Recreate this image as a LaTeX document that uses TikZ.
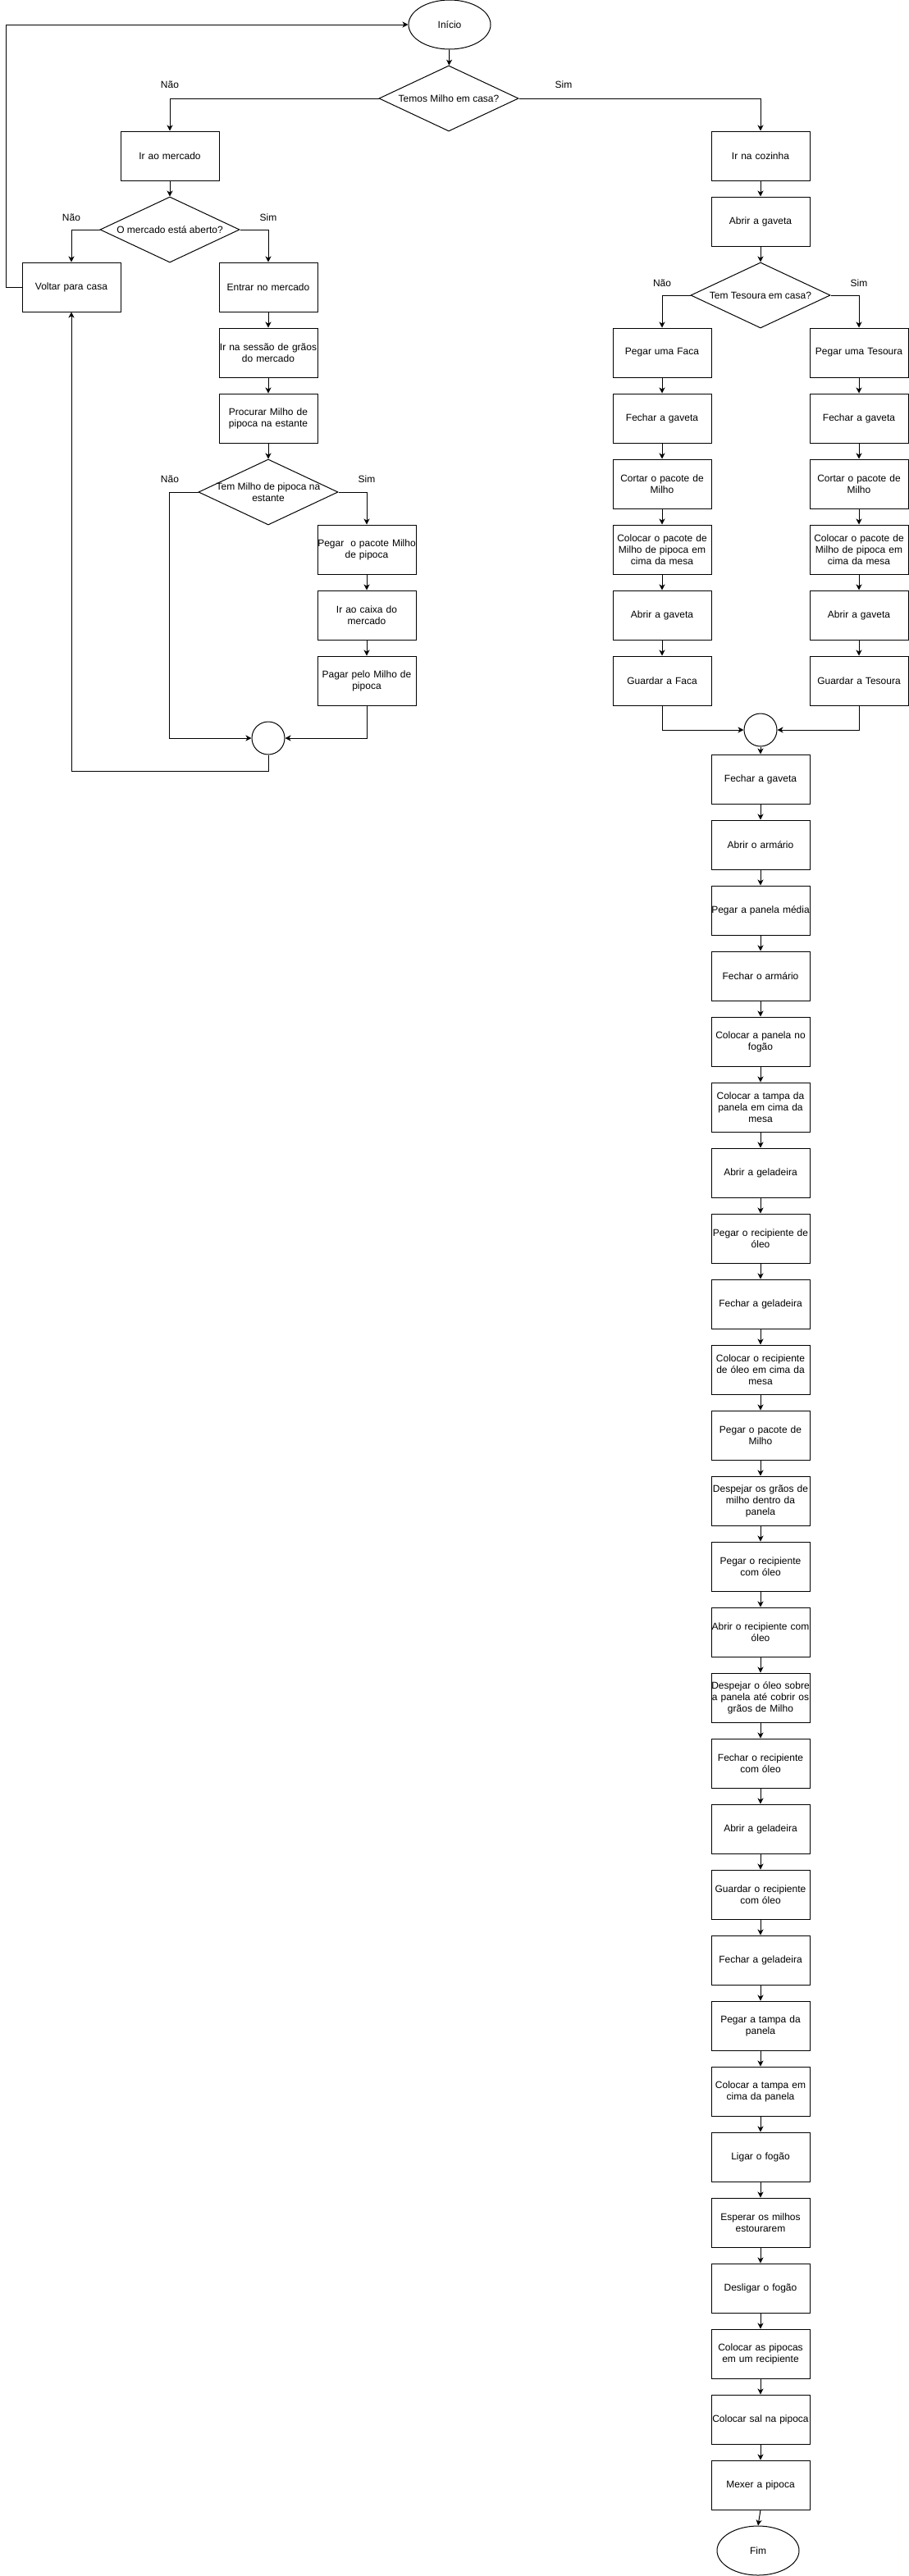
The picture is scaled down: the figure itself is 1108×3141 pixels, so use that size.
\documentclass[tikz,border=0pt]{standalone}
\usepackage{fontspec}
\setmainfont{Liberation Sans}
\usepackage{tikz}
\usetikzlibrary{shapes.geometric, arrows.meta}

\begin{document}
\begin{tikzpicture}[x=1pt, y=-1pt, line width=1pt,
        >={Stealth[length=7pt, width=7pt, inset=2pt]},
        every node/.style={font=\fontsize{12}{14}\selectfont},
        box/.style={draw, rectangle, minimum width=120pt, minimum height=60pt, text width=120pt, inner sep=0pt, align=center},
        decision/.style={draw, diamond, minimum width=170pt, minimum height=80pt, inner sep=0pt},
        terminal/.style={draw, ellipse, minimum width=100pt, minimum height=60pt, inner sep=0pt},
        joint/.style={draw, circle, minimum size=40pt, inner sep=0pt}]
        \useasboundingbox (0,0) rectangle (1108,3141);

        % Start and first question
        \node[terminal] (inicio) at (548,30) {Início};
        \node[decision, label={center:Temos Milho em casa?}] (temos) at (547,120) {};
        \draw[->] (inicio) -- (temos);
        \node (naoTemos) at (207,103) {Não};
        \node (simTemos) at (687,103) {Sim};

        % Market branch (left)
        \node[box] (mercado) at (207,190) {Ir ao mercado};
        \node[decision, label={center:O mercado está aberto?}] (aberto) at (207,280) {};
        \node (naoAberto) at (87,265) {Não};
        \node (simAberto) at (327,265) {Sim};
        \node[box] (voltar) at (87,350) {Voltar para casa};
        \node[box] (entrar) at (327,350) {Entrar no mercado};
        \node[box] (secao) at (327,430) {Ir na sessão de grãos\\do mercado};
        \node[box] (procurar) at (327,510) {Procurar Milho de\\pipoca na estante};
        \node[decision, label={[align=center]center:{Tem Milho de pipoca na\\estante}}] (temMilho) at (327,600) {};
        \node (naoMilho) at (207,584) {Não};
        \node (simMilho) at (447,584) {Sim};
        \node[box] (pegarPacote) at (447,670) {Pegar\ \ o pacote Milho\\de pipoca};
        \node[box] (caixa) at (447,750) {Ir ao caixa do\\mercado};
        \node[box] (pagar) at (447,830) {Pagar pelo Milho de\\pipoca};
        \node[joint] (juntaA) at (327,900) {};

        \draw[->] (temos.west) -| (mercado.north);
        \draw[->] (mercado) -- (aberto);
        \draw[->] (aberto.west) -| (voltar.north);
        \draw[->] (aberto.east) -| (entrar.north);
        \draw[->] (entrar) -- (secao);
        \draw[->] (secao) -- (procurar);
        \draw[->] (procurar) -- (temMilho);
        \draw[->] (temMilho.west) -- ++(-35,0) |- (juntaA.west);
        \draw[->] (temMilho.east) -| (pegarPacote.north);
        \draw[->] (pegarPacote) -- (caixa);
        \draw[->] (caixa) -- (pagar);
        \draw[->] (pagar.south) |- (juntaA.east);
        \draw[->] (juntaA.south) -- ++(0,20) -| (voltar.south);
        \draw[->] (voltar.west) -- ++(-19,0) |- (inicio.west);

        % Kitchen branch (right)
        \node[box] (cozinha) at (927,190) {Ir na cozinha};
        \node[box] (abrirGaveta) at (927,270) {Abrir a gaveta};
        \node[decision, label={center:Tem Tesoura em casa?}] (temTesoura) at (927,360) {};
        \node (naoTesoura) at (807,345) {Não};
        \node (simTesoura) at (1047,345) {Sim};
        \draw[->] (temos.east) -| (cozinha.north);
        \draw[->] (cozinha) -- (abrirGaveta);
        \draw[->] (abrirGaveta) -- (temTesoura);

        % Knife column
        \node[box] (facaA) at (807,430) {Pegar uma Faca};
        \node[box] (facaB) at (807,510) {Fechar a gaveta};
        \node[box] (facaC) at (807,590) {Cortar o pacote de\\Milho};
        \node[box] (facaD) at (807,670) {Colocar o pacote de\\Milho de pipoca em\\cima da mesa};
        \node[box] (facaE) at (807,750) {Abrir a gaveta};
        \node[box] (facaF) at (807,830) {Guardar a Faca};

        % Scissors column
        \node[box] (tesA) at (1047,430) {Pegar uma Tesoura};
        \node[box] (tesB) at (1047,510) {Fechar a gaveta};
        \node[box] (tesC) at (1047,590) {Cortar o pacote de\\Milho};
        \node[box] (tesD) at (1047,670) {Colocar o pacote de\\Milho de pipoca em\\cima da mesa};
        \node[box] (tesE) at (1047,750) {Abrir a gaveta};
        \node[box] (tesF) at (1047,830) {Guardar a Tesoura};

        \node[joint] (juntaB) at (927,890) {};
        \draw[->] (temTesoura.west) -| (facaA.north);
        \draw[->] (temTesoura.east) -| (tesA.north);
        \foreach \a/\b in {A/B, B/C, C/D, D/E, E/F} {
            \draw[->] (faca\a) -- (faca\b);
            \draw[->] (tes\a) -- (tes\b);
        }
        \draw[->] (facaF.south) |- (juntaB.west);
        \draw[->] (tesF.south) |- (juntaB.east);

        % Popcorn steps
        \node[box] (s1) at (927,950) {Fechar a gaveta};
        \node[box] (s2) at (927,1030) {Abrir o armário};
        \node[box] (s3) at (927,1110) {Pegar a panela média};
        \node[box] (s4) at (927,1190) {Fechar o armário};
        \node[box] (s5) at (927,1270) {Colocar a panela no\\fogão};
        \node[box] (s6) at (927,1350) {Colocar a tampa da\\panela em cima da\\mesa};
        \node[box] (s7) at (927,1430) {Abrir a geladeira};
        \node[box] (s8) at (927,1510) {Pegar o recipiente de\\óleo};
        \node[box] (s9) at (927,1590) {Fechar a geladeira};
        \node[box] (s10) at (927,1670) {Colocar o recipiente\\de óleo em cima da\\mesa};
        \node[box] (s11) at (927,1750) {Pegar o pacote de\\Milho};
        \node[box] (s12) at (927,1830) {Despejar os grãos de\\milho dentro da\\panela};
        \node[box] (s13) at (927,1910) {Pegar o recipiente\\com óleo};
        \node[box] (s14) at (927,1990) {Abrir o recipiente com\\óleo};
        \node[box] (s15) at (927,2070) {Despejar o óleo sobre\\a panela até cobrir os\\grãos de Milho};
        \node[box] (s16) at (927,2150) {Fechar o recipiente\\com óleo};
        \node[box] (s17) at (927,2230) {Abrir a geladeira};
        \node[box] (s18) at (927,2310) {Guardar o recipiente\\com óleo};
        \node[box] (s19) at (927,2390) {Fechar a geladeira};
        \node[box] (s20) at (927,2470) {Pegar a tampa da\\panela};
        \node[box] (s21) at (927,2550) {Colocar a tampa em\\cima da panela};
        \node[box] (s22) at (927,2630) {Ligar o fogão};
        \node[box] (s23) at (927,2710) {Esperar os milhos\\estourarem};
        \node[box] (s24) at (927,2790) {Desligar o fogão};
        \node[box] (s25) at (927,2870) {Colocar as pipocas\\em um recipiente};
        \node[box] (s26) at (927,2950) {Colocar sal na pipoca};
        \node[box] (s27) at (927,3030) {Mexer a pipoca};
        \node[terminal] (fim) at (924,3110) {Fim};

        \draw[->] (juntaB) -- (s1);
        \foreach \i [count=\j from 2] in {1,...,26}
            \draw[->] (s\i) -- (s\j);
        \draw[->] (s27.south) -- (fim.north);
    \end{tikzpicture}
\end{document}
